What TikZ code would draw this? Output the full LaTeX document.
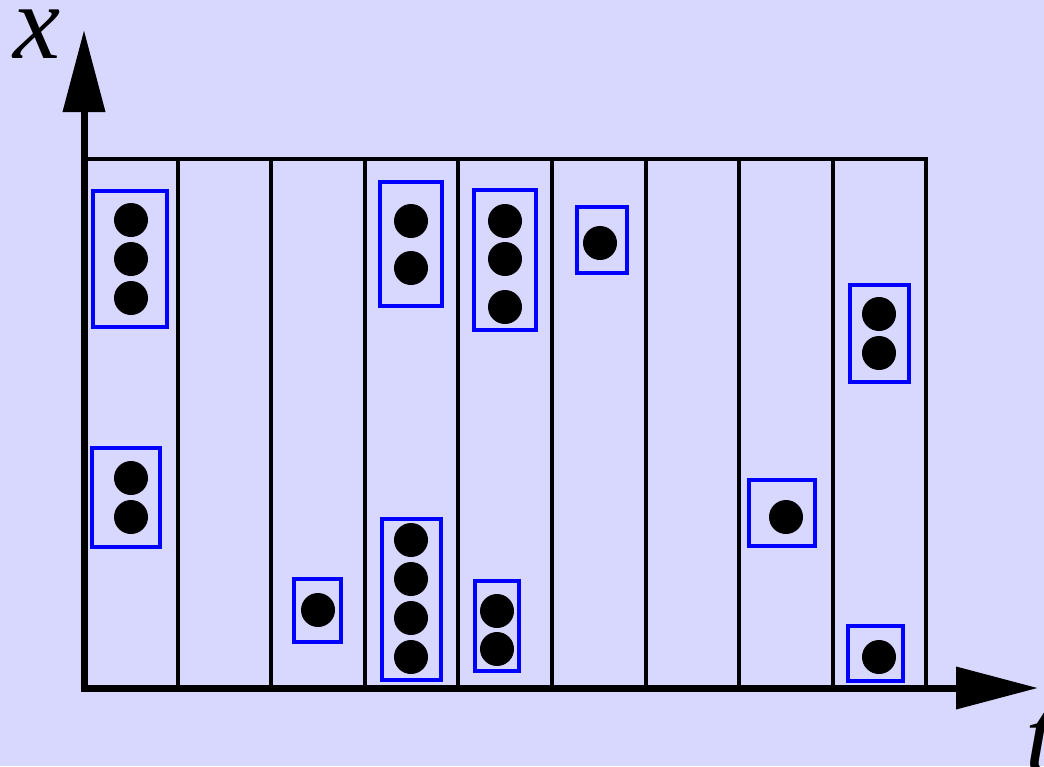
\documentclass[tikz,border=0pt]{standalone}
\usepackage{fontspec}
\newfontfamily\labelfont{Liberation Serif}
\usetikzlibrary{arrows.meta}
\definecolor{bg}{RGB}{216,216,255}
\definecolor{boxblue}{RGB}{0,0,255}
\tikzset{
  axisline/.style={line width=7pt,-{Triangle[length=82pt,width=41pt]}},
  gridline/.style={line width=4pt,black},
  clusterbox/.style={line width=4pt,draw=boxblue},
  dot/.style={fill=black},
  axislabel/.style={inner sep=0pt,anchor=base,font=\labelfont\fontsize{106}{106}\selectfont\itshape}
}
\begin{document}
\begin{tikzpicture}[x=1pt,y=-1pt]
\useasboundingbox (0,0) rectangle (1044,766);
\fill[bg] (0,0) rectangle (1044,766);
% grid
\draw[gridline] (84,159) rectangle (926,688);
\foreach \gx in {178,271,365,458,552,646,739,833}
  \draw[gridline] (\gx,159) -- (\gx,688);
% axes
\coordinate (origin) at (84,688);
\coordinate (xend) at (1038,688);
\coordinate (yend) at (84,30);
\draw[axisline] (80.5,688) -- (xend);
\draw[axisline] (84,691.5) -- (yend);
\node[axislabel] (xlabel) at (37,58) {x};
\node[axislabel] (tlabel) at (1040,772) {t};
% boxes
\draw[clusterbox] (93,191) rectangle (167,327);
\draw[clusterbox] (92,448) rectangle (160,547);
\draw[clusterbox] (294,579) rectangle (341,642);
\draw[clusterbox] (380,182) rectangle (442,306);
\draw[clusterbox] (382,519) rectangle (441,680);
\draw[clusterbox] (474,190) rectangle (536,330);
\draw[clusterbox] (475,581) rectangle (519,671);
\draw[clusterbox] (577,207) rectangle (627,273);
\draw[clusterbox] (749,480) rectangle (815,546);
\draw[clusterbox] (850,285) rectangle (909,382);
\draw[clusterbox] (848,626) rectangle (903,681);
% dots
\foreach \dx/\dy in {131/220,131/259,131/298,131/478,131/517,318/610,
  411/221,411/268,411/540,411/579,411/618,411/657,
  505/221,505/259,505/307,497/611,497/649,600/243,786/517,
  879/314,879/353,879/657}
  \fill[dot] (\dx,\dy) circle[radius=17pt];
\end{tikzpicture}
\end{document}
